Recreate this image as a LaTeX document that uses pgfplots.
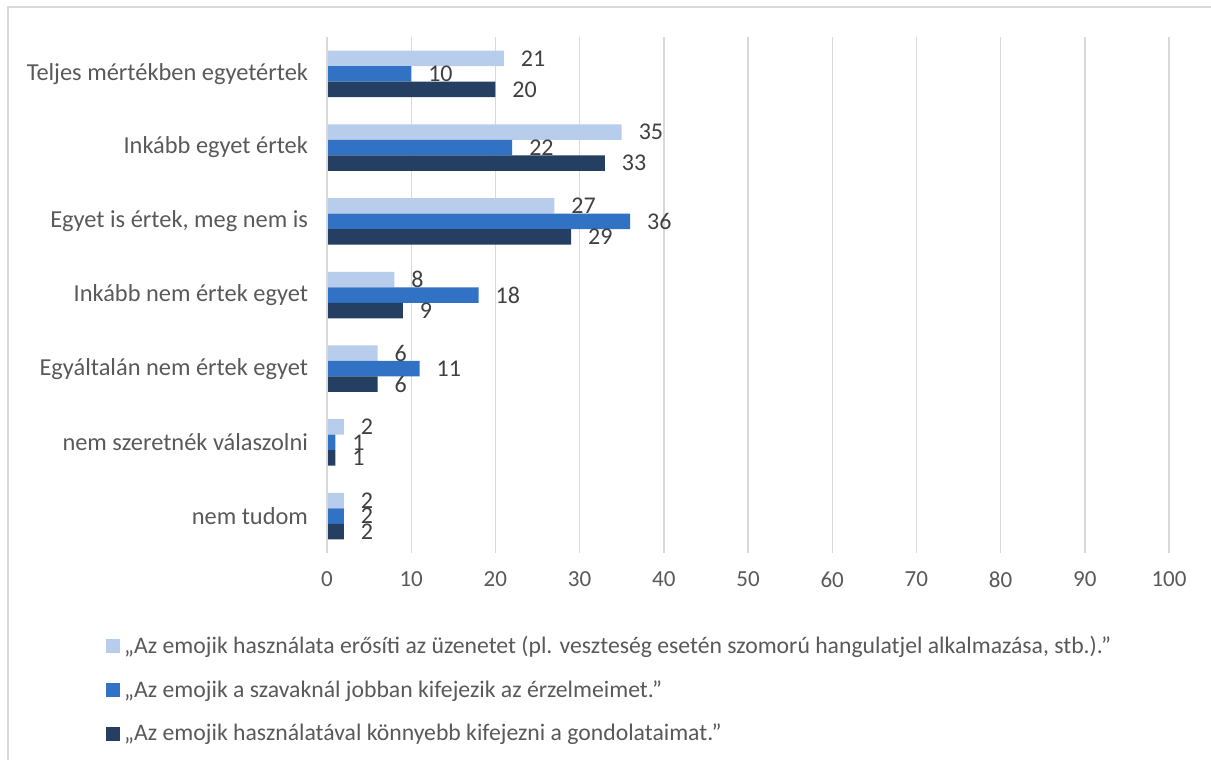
\documentclass[border=0pt]{standalone}
\usepackage{fontspec}
\setmainfont{Carlito}
\usepackage{pgfplots}
\pgfplotsset{compat=1.18}
\definecolor{c1}{HTML}{B8CDEB}
\definecolor{c2}{HTML}{3172C4}
\definecolor{c3}{HTML}{243F62}
\definecolor{gridgray}{HTML}{D9D9D9}
\definecolor{labelgray}{HTML}{595959}
\definecolor{datagray}{HTML}{404040}
\begin{document}
\begin{tikzpicture}
\useasboundingbox (0,0) rectangle (605.5pt,380pt);
\draw[color=gridgray, line width=0.7pt] (4pt,376.5pt) rectangle (800pt,-100pt);
\begin{axis}[
  at={(163.5pt,103.5pt)}, anchor=south west,
  width=421pt, height=258pt, scale only axis,
  xbar, bar width=7.75pt,
  xmin=0, xmax=100, ymin=-0.5, ymax=6.5,
  xtick={0,10,...,100}, ytick={0,...,6},
  yticklabels={nem tudom, nem szeretnék válaszolni, Egyáltalán nem értek egyet, Inkább nem értek egyet, {Egyet is értek, meg nem is}, Inkább egyet értek, Teljes mértékben egyetértek},
  major tick length=0pt,
  xmajorgrids, major grid style={gridgray, line width=0.7pt},
  axis line style={draw=none},
  tick label style={font=\fontsize{11.5}{14}\selectfont, text=labelgray},
  yticklabel style={font=\fontsize{12.2}{14}\selectfont, xshift=-6pt},
  /pgf/number format/assume math mode=true,
  xticklabel style={yshift=-6pt},
  nodes near coords,
  nodes near coords style={font=\fontsize{12}{14}\selectfont, text=datagray, xshift=5pt},
  legend style={at={(-0.27,-0.145)}, anchor=north west, draw=none, fill=none, font=\fontsize{11.85}{14}\selectfont, text=labelgray, row sep=8pt},
  legend cell align=left,
  legend image code/.code={\fill[#1] (0pt,-3.5pt) rectangle (7pt,3.5pt);},
]
\addplot[fill=c1, draw=none, bar shift=7.75pt] coordinates {(21,6) (35,5) (27,4) (8,3) (6,2) (2,1) (2,0)};
\addplot[fill=c2, draw=none, bar shift=0pt] coordinates {(10,6) (22,5) (36,4) (18,3) (11,2) (1,1) (2,0)};
\addplot[fill=c3, draw=none, bar shift=-7.75pt] coordinates {(20,6) (33,5) (29,4) (9,3) (6,2) (1,1) (2,0)};
\legend{{„Az emojik használata erősíti az üzenetet (pl. veszteség esetén szomorú hangulatjel alkalmazása, stb.).”}, {„Az emojik a szavaknál jobban kifejezik az érzelmeimet.”}, {„Az emojik használatával könnyebb kifejezni a gondolataimat.”}}
\draw[gridgray, line width=0.7pt] (axis cs:0,-0.5) -- (axis cs:0,6.5);
\end{axis}
\end{tikzpicture}
\end{document}
